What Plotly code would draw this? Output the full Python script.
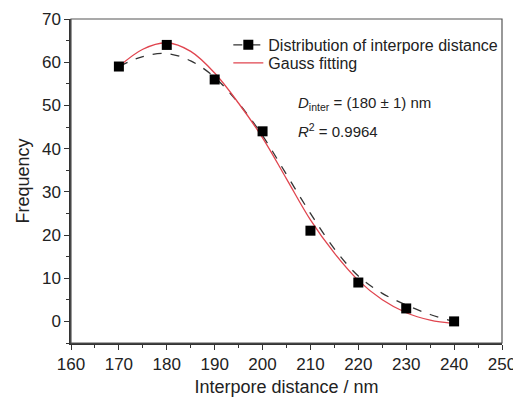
import plotly.graph_objects as go

# Measured data points
distance = [170, 180, 190, 200, 210, 220, 230, 240]
frequency = [59, 64, 56, 44, 21, 9, 3, 0]

# Smoothed connecting curve
smooth_x = [170, 175, 180, 185, 190, 195, 200, 205, 210, 215, 220, 225, 230, 235, 240]
smooth_y = [59, 61.3, 62, 60.3, 56.5, 50.5, 43, 34, 25, 16.8, 10.5, 6.5, 3.8, 1.6, 0]

# Gauss fitting curve
fit_x = [170, 175, 180, 185, 190, 195, 200, 205, 210, 215, 220, 225, 230, 235, 240]
fit_y = [59, 63, 64.5, 62.5, 57.5, 50.5, 42.5, 33, 23.5, 15.8, 9.5, 5, 2, 0.3, -0.5]

x_ticks = [160, 170, 180, 190, 200, 210, 220, 230, 240, 250]
y_ticks = [0, 10, 20, 30, 40, 50, 60, 70]

FONT = "Liberation Sans, Arial, sans-serif"

fig = go.Figure()

fig.add_trace(go.Scatter(
    x=smooth_x, y=smooth_y, mode="lines",
    line=dict(color="#333333", width=1.3, dash="dash", shape="spline"),
    showlegend=False, hoverinfo="skip"))
fig.add_trace(go.Scatter(
    x=fit_x, y=fit_y, mode="lines",
    line=dict(color="#e0454f", width=1.3, shape="spline"),
    showlegend=False, hoverinfo="skip"))
fig.add_trace(go.Scatter(
    x=distance, y=frequency, mode="markers",
    marker=dict(symbol="square", size=10, color="black"),
    showlegend=False))

# legend-only traces (one per legend for exact row spacing)
fig.add_trace(go.Scatter(
    x=[None], y=[None], mode="lines+markers",
    line=dict(color="#333333", width=1.3, dash="dash"),
    marker=dict(symbol="square", size=10, color="black"),
    name="Distribution of interpore distance", legend="legend"))
fig.add_trace(go.Scatter(
    x=[None], y=[None], mode="lines",
    line=dict(color="#e0454f", width=1.3),
    name="Gauss fitting", legend="legend2"))

leg_common = dict(xanchor="left", yanchor="middle", bgcolor="rgba(0,0,0,0)",
                  font=dict(size=16, family=FONT, color="#222222"), itemwidth=30)

fig.update_layout(
    width=521, height=389,
    margin=dict(l=63, r=27, t=11, b=54, autoexpand=False),
    paper_bgcolor="white", plot_bgcolor="white",
    font=dict(family=FONT, color="#222222"),
    showlegend=True,
    legend=dict(x=0.365, y=0.92, **leg_common),
    legend2=dict(x=0.365, y=0.864, **leg_common),
    xaxis=dict(
        range=[160, 250], tickvals=x_ticks, ticktext=[str(v) for v in x_ticks],
        automargin=False,
        showgrid=False, zeroline=False, showline=True, linecolor="#333333", linewidth=1.5,
        ticks="outside", ticklen=5, tickwidth=1.3, tickcolor="#333333",
        minor=dict(ticks="outside", ticklen=3, tickwidth=1.2, tickcolor="#333333", dtick=5),
        tickfont=dict(size=17, family=FONT, color="#222222"),
        title=dict(text="Interpore distance / nm", font=dict(size=18, family=FONT)),
    ),
    yaxis=dict(
        range=[-5, 70], tickvals=y_ticks, ticktext=[str(v) for v in y_ticks],
        automargin=False,
        showgrid=False, zeroline=False, showline=True, linecolor="#333333", linewidth=1.5,
        ticks="outside", ticklen=5, tickwidth=1.3, tickcolor="#333333",
        minor=dict(ticks="outside", ticklen=3, tickwidth=1.2, tickcolor="#333333", dtick=5),
        tickfont=dict(size=17, family=FONT, color="#222222"),
        title=dict(text="Frequency", font=dict(size=18, family=FONT), standoff=8),
    ),
    shapes=[dict(type="rect", xref="paper", yref="paper", x0=0, y0=0, x1=1, y1=1,
                 line=dict(color="#555555", width=1.2), layer="above")],
    annotations=[
        dict(x=0.522, y=0.738, xref="paper", yref="paper", xanchor="left", yanchor="middle",
             showarrow=False, text="<i>D</i><sub>inter</sub> = (180 ± 1) nm",
             font=dict(size=15, family=FONT, color="#222222")),
        dict(x=0.522, y=0.657, xref="paper", yref="paper", xanchor="left", yanchor="middle",
             showarrow=False, text="<i>R</i><sup>2</sup> = 0.9964",
             font=dict(size=15, family=FONT, color="#222222")),
    ],
)

fig.write_html("out.html")
